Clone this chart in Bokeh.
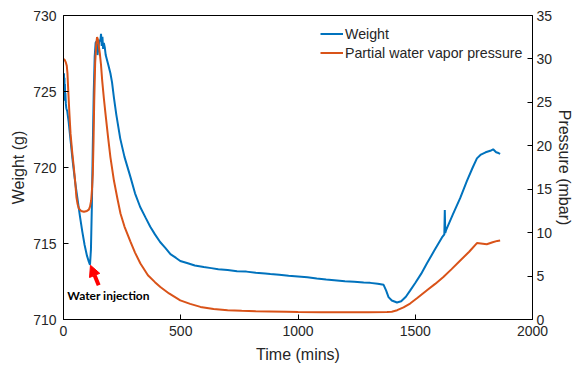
from bokeh.plotting import figure
from bokeh.models import (Range1d, LinearAxis, FixedTicker, Legend, LegendItem,
                          Arrow, NormalHead, Label)
from bokeh.embed import file_html
from bokeh.resources import INLINE

# ---------------- data ----------------
w_t = [0, 1, 2, 3, 4, 5, 6, 7, 8, 10, 12, 16, 22, 30, 40, 50, 60, 70, 80, 90, 100,
       108, 113, 117, 121, 125, 129, 133, 137, 141, 145, 149, 153, 157, 160, 163, 166,
       169, 172, 176, 180, 185, 192, 200, 207, 215, 225, 242, 260, 285, 305, 327, 350,
       370, 390, 412, 435, 456, 480, 498, 530, 560, 598, 630, 660, 700, 740, 780, 820,
       860, 882, 920, 960, 1000, 1040, 1080, 1120, 1166, 1200, 1240, 1280, 1308, 1340,
       1365, 1376, 1386, 1400, 1422, 1440, 1460, 1478, 1500, 1525, 1550, 1580, 1614,
       1624, 1626, 1628, 1632, 1660, 1692, 1720, 1745, 1763, 1780, 1800, 1820, 1832,
       1845, 1855, 1862]
weight = [725.8, 724.6, 726.2, 724.4, 725.9, 724.8, 725.5, 724.5, 724.9, 724.2, 723.9,
          723.7, 723.0, 721.8, 720.3, 719.0, 717.9, 716.8, 715.8, 714.9, 714.2, 713.8,
          713.6, 714.6, 717.5, 721.5, 725.0, 727.3, 728.2, 728.3, 727.4, 727.9, 728.4,
          728.3, 728.8, 728.0, 728.6, 727.8, 728.2, 727.9, 727.4, 727.1, 726.7, 726.2,
          725.6, 724.6, 723.5, 721.9, 720.7, 719.4, 718.3, 717.4, 716.7, 716.1, 715.6,
          715.1, 714.7, 714.3, 714.05, 713.85, 713.7, 713.55, 713.45, 713.38, 713.3,
          713.25, 713.18, 713.15, 713.08, 713.03, 713.0, 712.95, 712.88, 712.83, 712.78,
          712.7, 712.63, 712.57, 712.52, 712.48, 712.43, 712.41, 712.35, 712.28, 711.9,
          711.47, 711.25, 711.12, 711.2, 711.5, 711.9, 712.4, 713.0, 713.7, 714.5, 715.4,
          715.6, 717.2, 715.7, 715.9, 716.9, 718.0, 719.1, 720.0, 720.6, 720.85, 721.0,
          721.1, 721.2, 721.0, 720.95, 720.9]

p_t = [0, 5, 10, 14, 17, 20, 25, 30, 37, 44, 50, 55, 60, 65, 75, 87, 100, 108, 113, 118,
       122, 125, 128, 131, 135, 139, 143, 146, 148, 151, 155, 160, 165, 172, 179, 190,
       200, 215, 230, 243, 260, 285, 305, 328, 360, 390, 413, 450, 498, 540, 584, 640,
       700, 760, 820, 880, 950, 1000, 1100, 1200, 1300, 1380, 1400, 1423, 1450, 1478,
       1510, 1550, 1585, 1620, 1655, 1692, 1730, 1763, 1780, 1805, 1830, 1850, 1862]
pressure = [30.0, 29.9, 29.6, 29.2, 28.3, 26.5, 23.8, 21.4, 19.3, 17.5, 15.8, 14.1, 13.3,
            12.8, 12.5, 12.4, 12.5, 12.65, 13.0, 13.7, 15.2, 16.8, 20.5, 25.2, 29.5, 31.5,
            32.5, 32.3, 32.1, 31.4, 30.6, 29.3, 27.5, 25.5, 23.7, 21.0, 18.7, 16.0, 13.9,
            12.2, 10.7, 9.0, 7.7, 6.44, 5.1, 4.3, 3.75, 3.0, 2.2, 1.8, 1.45, 1.2, 1.07,
            1.0, 0.95, 0.92, 0.88, 0.85, 0.84, 0.84, 0.84, 0.85, 0.9, 1.07, 1.4, 1.84,
            2.5, 3.37, 4.1, 4.9, 5.8, 6.8, 7.8, 8.8, 8.75, 8.66, 8.9, 9.05, 9.1]

x_ticks = [0, 500, 1000, 1500, 2000]
w_ticks = [710, 715, 720, 725, 730]
p_ticks = [0, 5, 10, 15, 20, 25, 30, 35]

series_names = ["Weight", "Partial water vapor pressure"]
note_text = "Water injection"
note_pos = [16, 711.6]                 # (time, weight) of text
arrow_pts = [150, 712.25, 115, 713.57]  # start t, start w, end t, end w

BLUE = "#0072BD"
ORANGE = "#D95319"
FONT = "Liberation Sans"
TXT = "#262626"

p = figure(width=579, height=366, output_backend="svg", toolbar_location=None,
           x_range=Range1d(0, 2000), y_range=Range1d(710, 730),
           min_border_left=63, min_border_right=47, min_border_top=15,
           min_border_bottom=47)
p.extra_y_ranges = {"p": Range1d(0, 35)}
p.grid.visible = False
p.outline_line_color = "black"
p.outline_line_width = 1
p.background_fill_color = "white"
p.border_fill_color = "white"

raxis = LinearAxis(y_range_name="p")
p.add_layout(raxis, "right")


def style(ax, ticks, label):
    ax.ticker = FixedTicker(ticks=ticks)
    ax.axis_label = label
    ax.axis_label_text_font = FONT
    ax.axis_label_text_font_style = "normal"
    ax.axis_label_text_font_size = "16px"
    ax.axis_label_text_color = TXT
    ax.major_label_text_font = FONT
    ax.major_label_text_font_size = "14px"
    ax.major_label_text_color = TXT
    ax.axis_line_color = "black"
    ax.axis_line_width = 1
    ax.major_tick_line_color = "black"
    ax.major_tick_in = 5
    ax.major_tick_out = 0
    ax.minor_tick_line_color = None


style(p.xaxis[0], x_ticks, "Time (mins)")
style(p.yaxis[0], w_ticks, "Weight (g)")
style(raxis, p_ticks, "Pressure (mbar)")
p.xaxis[0].major_label_standoff = 6
p.xaxis[0].axis_label_standoff = 7
p.yaxis[0].major_label_standoff = 7
p.yaxis[0].axis_label_standoff = 3
raxis.major_label_standoff = 4
raxis.axis_label_standoff = 1

r_w = p.line(w_t, weight, line_color=BLUE, line_width=2)
r_p = p.line(p_t, pressure, line_color=ORANGE, line_width=2, y_range_name="p")

legend = Legend(items=[LegendItem(label=series_names[0], renderers=[r_w]),
                       LegendItem(label=series_names[1], renderers=[r_p])],
                location=(257, 257), border_line_color=None,
                background_fill_alpha=0, padding=0, margin=0, spacing=0,
                glyph_width=23, glyph_height=19, label_height=19,
                label_standoff=2, label_text_font=FONT,
                label_text_font_size="14.2px", label_text_color=TXT)
p.add_layout(legend)

p.add_layout(Arrow(end=NormalHead(size=11, fill_color="red", line_color="red"),
                   x_start=arrow_pts[0], y_start=arrow_pts[1],
                   x_end=arrow_pts[2], y_end=arrow_pts[3],
                   line_color="red", line_width=4))
p.add_layout(Label(x=note_pos[0], y=note_pos[1], text=note_text, text_font="Lato",
                   text_font_style="bold", text_font_size="12px",
                   text_baseline="middle", text_color="black"))

open("out.html", "w").write(file_html(p, INLINE))
